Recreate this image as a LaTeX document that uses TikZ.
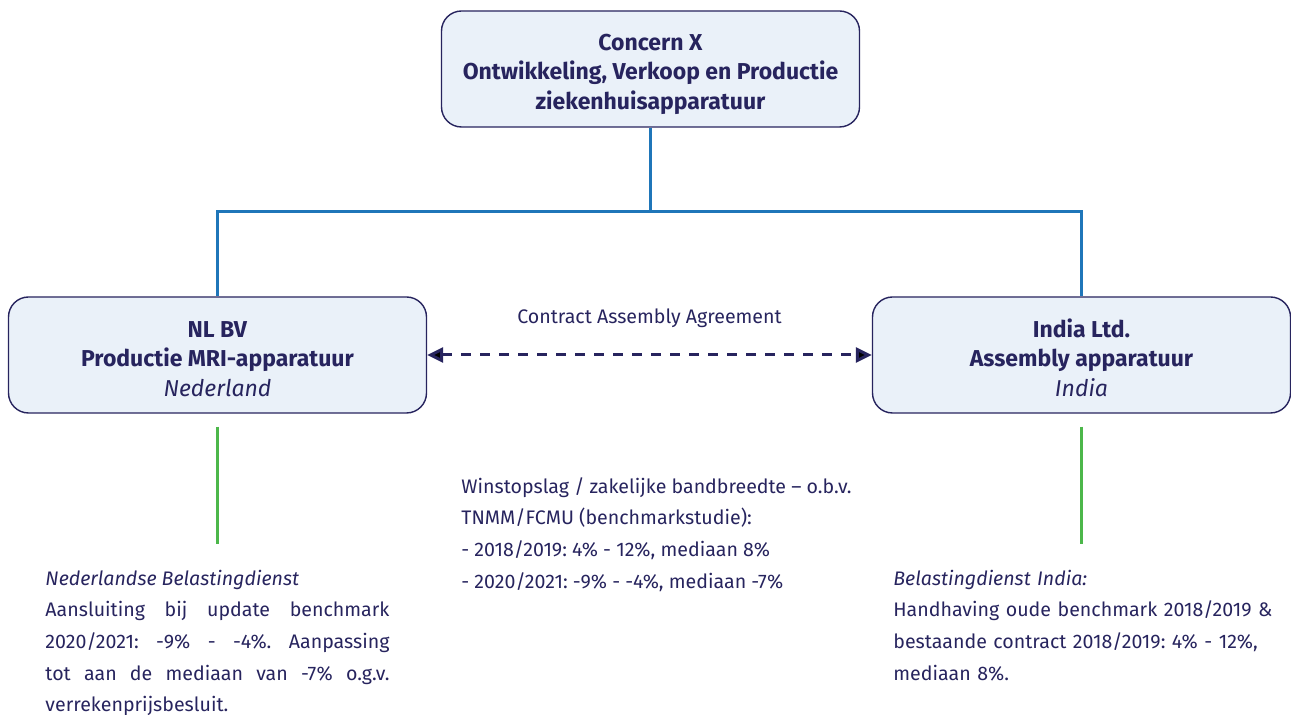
\documentclass[tikz,border=0pt]{standalone}
\usepackage{fontspec}
\setmainfont{Fira Sans}
\usetikzlibrary{arrows.meta,positioning}
\definecolor{navy}{HTML}{27245E}
\definecolor{boxfill}{HTML}{EAF1F9}
\definecolor{orgblue}{HTML}{1F76B9}
\definecolor{taxgreen}{HTML}{4CB74A}
\frenchspacing

\begin{document}
\begin{tikzpicture}[on grid,auto,
	entity/.style={draw=navy, fill=boxfill, rounded corners=10pt, line width=0.7pt, minimum width=209pt, minimum height=58pt, align=center, text=navy, inner sep=0pt, font=\fontsize{11.5}{14.6}\selectfont},
	orgline/.style={draw=orgblue, line width=1.25pt},
	taxline/.style={draw=taxgreen, line width=1.25pt, shorten <=6.5pt, shorten >=13pt},
	contract/.style={draw=navy, line width=1.5pt, dash pattern=on 5pt off 4.5pt, {Triangle[length=8pt,width=7.5pt]}-{Triangle[length=8pt,width=7.5pt]}},
	note/.style={text=navy, inner sep=0pt, font=\fontsize{9.8}{15.8}\selectfont}]
	\useasboundingbox (0,0) rectangle (645.5pt,-357.5pt);
	\node[entity] (concern) at (325.25pt,-34.5pt) {\rule{0pt}{13.5pt}\textbf{Concern X}\\\textbf{Ontwikkeling, Verkoop en Productie}\\\textbf{ziekenhuisapparatuur}};
	\node[entity, below left=143pt and 216.5pt of concern] (nl) {\rule{0pt}{12pt}\textbf{NL BV}\\\textbf{Productie MRI-apparatuur}\\\textit{Nederland}};
	\node[entity, below right=143pt and 215.5pt of concern] (india) {\rule{0pt}{12pt}\textbf{India Ltd.}\\\textbf{Assembly apparatuur}\\\textit{India}};

	\node[note, text width=172pt, align=justify, anchor=north] (nltax) at ([yshift=-78pt]nl.south)
		{\textit{Nederlandse Belastingdienst}\\Aansluiting bij update benchmark\linebreak 2020/2021: -9\% - -4\%. Aanpassing\linebreak tot aan de mediaan van -7\% o.g.v.\linebreak verrekenprijsbesluit.};
	\node[note, text width=196pt, align=left, anchor=north west] (intax) at ([xshift=-94.25pt,yshift=-78pt]india.south)
		{\textit{Belastingdienst India:}\\Handhaving oude benchmark 2018/2019 \&\\bestaande contract 2018/2019: 4\% - 12\%,\\mediaan 8\%.};
	\node[note, align=left, anchor=north west] (study) at (230.5pt,-238.5pt)
		{Winstopslag / zakelijke bandbreedte – o.b.v.\\TNMM/FCMU (benchmarkstudie):\\- 2018/2019: 4\% - 12\%, mediaan 8\%\\- 2020/2021: -9\% - -4\%, mediaan -7\%};

	\draw[orgline] (concern.south) -- ++(0,-42pt) -| (nl.north);
	\draw[orgline] (concern.south) -- ++(0,-42pt) -| (india.north);
	\path[contract] (nl) edge node[note, above=13pt] {Contract Assembly Agreement} (india);
	\draw[taxline] (nl) -- (nltax);
	\draw[taxline] (india) -- (nltax.north -| india);
\end{tikzpicture}
\end{document}
